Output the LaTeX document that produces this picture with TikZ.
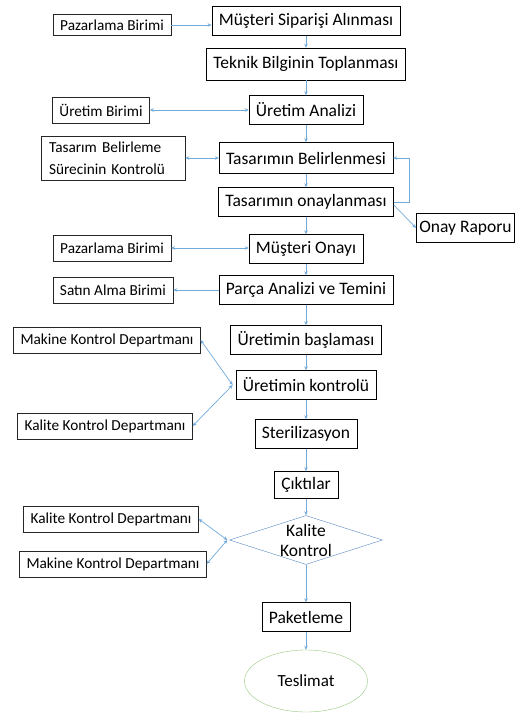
\documentclass[tikz,border=0pt]{standalone}
\usepackage{fontspec}
\setmainfont{Carlito}
\usetikzlibrary{shapes.geometric, arrows.meta}

\definecolor{okmavi}{RGB}{115,170,218}
\definecolor{karomavi}{RGB}{90,135,195}
\definecolor{elipsyesil}{RGB}{150,200,125}

\begin{document}
\begin{tikzpicture}[x=1pt, y=-1pt,
		adim/.style={draw=black, rectangle, inner xsep=7pt, inner ysep=0pt, minimum height=29pt, font=\fontsize{17.5}{20}\selectfont},
		birim/.style={draw=black!85, rectangle, inner xsep=7pt, inner ysep=0pt, minimum height=26pt, font=\fontsize{15.3}{21.5}\selectfont},
		ok/.style={draw=okmavi, line width=0.7pt, -{Stealth[length=4pt, width=3.5pt]}},
		cift/.style={ok, {Stealth[length=4pt, width=3.5pt]}-{Stealth[length=4pt, width=3.5pt]}}]
			\useasboundingbox (0,0) rectangle (515,716);
			% ana akis
			\node [adim] (siparis) at (306,21) {Müşteri Siparişi Alınması};
			\node [adim, minimum height=32pt] (teknik) at (306,64) {Teknik Bilginin Toplanması};
			\node [adim] (analiz) at (306,110) {Üretim Analizi};
			\node [adim, minimum height=31pt] (belirleme) at (306,158) {Tasarımın Belirlenmesi};
			\node [adim] (onaylama) at (306,202) {Tasarımın onaylanması};
			\node [adim] (onay) at (306,249) {Müşteri Onayı};
			\node [adim] (parca) at (306,290) {Parça Analizi ve Temini};
			\node [adim] (baslama) at (306,340) {Üretimin başlaması};
			\node [adim] (kontrol) at (306,385) {Üretimin kontrolü};
			\node [adim] (steril) at (306,434) {Sterilizasyon};
			\node [adim, minimum height=27pt] (cikti) at (306,485) {Çıktılar};
			\node [draw=karomavi, diamond, minimum width=153pt, minimum height=49pt, inner sep=0pt] (kalite) at (306,540) {};
			\node [align=center, font=\fontsize{17.5}{20}\selectfont] at (kalite.center) {Kalite\\Kontrol};
			\node [adim] (paket) at (306,617) {Paketleme};
			\node [draw=elipsyesil, ellipse, minimum width=123pt, minimum height=62pt, font=\fontsize{17}{20}\selectfont] (teslimat) at (306,681) {Teslimat};
			% yan birimler
			\node [birim, minimum height=21pt] (pazarlama1) at (112,25) {Pazarlama Birimi};
			\node [birim] (uretimbirim) at (101,110) {Üretim Birimi};
			\node [birim, align=left, text width=128pt, minimum height=44pt, inner xsep=8pt] (surec) at (113,158) {Tasarım Belirleme\\Sürecinin Kontrolü};
			\node [adim, inner xsep=3pt, minimum width=97pt] (rapor) at (465.5,228) {Onay Raporu};
			\node [birim] (pazarlama2) at (112,248) {Pazarlama Birimi};
			\node [birim] (satin) at (113,290) {Satın Alma Birimi};
			\node [birim] (makine1) at (107,340) {Makine Kontrol Departmanı};
			\node [birim] (kalitedep1) at (105,426) {Kalite Kontrol Departmanı};
			\node [birim] (kalitedep2) at (111,519) {Kalite Kontrol Departmanı};
			\node [birim] (makine2) at (113,564) {Makine Kontrol Departmanı};
			% oklar
			\foreach \a/\b in {siparis/teknik, teknik/analiz, analiz/belirleme, belirleme/onaylama, onaylama/onay, onay/parca, parca/baslama, baslama/kontrol, kontrol/steril, steril/cikti, cikti/kalite, kalite/paket, paket/teslimat}
				\draw [ok] (\a) -- (\b);
			\draw [ok] (pazarlama1) -- (pazarlama1 -| siparis.west);
			\draw [cift] (uretimbirim) -- (analiz);
			\draw [cift] (surec) -- (belirleme);
			\draw [ok] (onaylama.east) -- ++(16,0) |- (belirleme.east);
			\draw [ok] ([yshift=-3pt]onaylama.east) -- (rapor.west);
			\draw [cift] (pazarlama2) -- (pazarlama2 -| onay.west);
			\draw [ok] (parca) -- (satin);
			\draw [cift] ([xshift=-3pt]kontrol.west) -- (makine1.east);
			\draw [cift] ([xshift=-3pt]kontrol.west) -- (kalitedep1.east);
			\draw [cift] ([xshift=-2pt]kalite.west) -- (kalitedep2.east);
			\draw [cift] ([xshift=-2pt]kalite.west) -- (makine2.east);
		\end{tikzpicture}
\end{document}
